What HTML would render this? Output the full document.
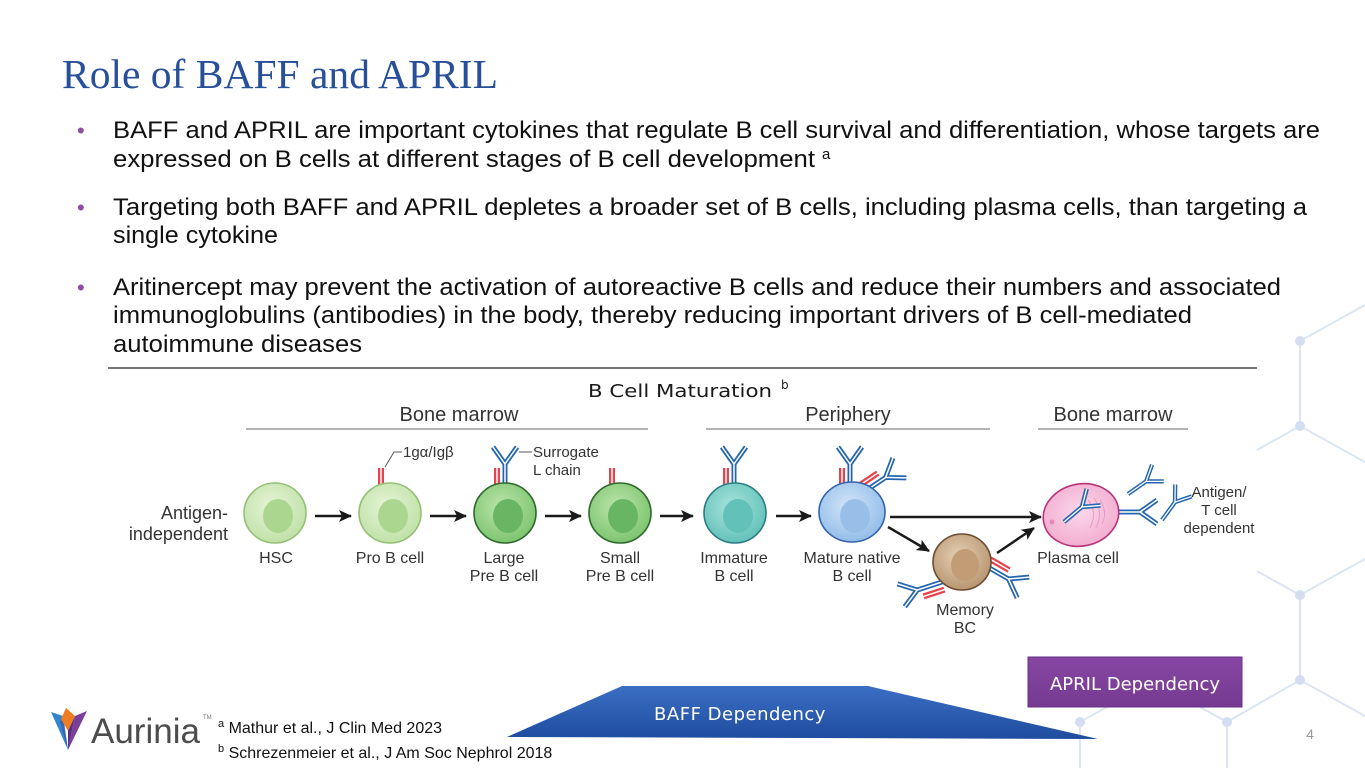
<!DOCTYPE html>
<html>
<head>
<meta charset="utf-8">
<style>
  html,body{margin:0;padding:0;background:#fff;}
  body{width:1365px;height:768px;overflow:hidden;position:relative;}
  svg{display:block;}
  .sans{font-family:"Liberation Sans", Arial, sans-serif;}
  .dv{font-family:"DejaVu Sans", "Liberation Sans", sans-serif;}
  .serif{font-family:"Liberation Serif", "Times New Roman", serif;}
</style>
</head>
<body>
<svg width="1365" height="768" viewBox="0 0 1365 768" xmlns="http://www.w3.org/2000/svg">
  <defs>
    <marker id="ah" markerWidth="13" markerHeight="12" refX="12" refY="6" orient="auto" markerUnits="userSpaceOnUse">
      <path d="M0,0 L13,6 L0,12 L3,6 z" fill="#1a1a1a"/>
    </marker>
    <radialGradient id="gLight" cx="45%" cy="40%" r="65%">
      <stop offset="0%" stop-color="#e6f4d8"/><stop offset="100%" stop-color="#bde0a3"/>
    </radialGradient>
    <radialGradient id="gDark" cx="45%" cy="40%" r="65%">
      <stop offset="0%" stop-color="#bde5ac"/><stop offset="100%" stop-color="#78c26b"/>
    </radialGradient>
    <radialGradient id="gTeal" cx="45%" cy="40%" r="65%">
      <stop offset="0%" stop-color="#a9e4dd"/><stop offset="100%" stop-color="#5ebfb7"/>
    </radialGradient>
    <radialGradient id="gBlue" cx="45%" cy="40%" r="65%">
      <stop offset="0%" stop-color="#d3e5f8"/><stop offset="100%" stop-color="#8dbae8"/>
    </radialGradient>
    <radialGradient id="gTan" cx="45%" cy="40%" r="65%">
      <stop offset="0%" stop-color="#e4d0b6"/><stop offset="100%" stop-color="#b5926b"/>
    </radialGradient>
    <radialGradient id="gPink" cx="50%" cy="45%" r="65%">
      <stop offset="0%" stop-color="#fbd8ea"/><stop offset="100%" stop-color="#f1a6cb"/>
    </radialGradient>
    <linearGradient id="gBaff" x1="0" y1="0" x2="0" y2="1">
      <stop offset="0%" stop-color="#3a6fc4"/><stop offset="100%" stop-color="#1f4c9e"/>
    </linearGradient>
    <linearGradient id="gApril" x1="0" y1="0" x2="0" y2="1">
      <stop offset="0%" stop-color="#8647a2"/><stop offset="100%" stop-color="#763a92"/>
    </linearGradient>

    <g id="ab">
      <path d="M0,0 V-26 L-12,-43 M0,-26 L12,-43" stroke="#2466ae" stroke-width="5" fill="none" stroke-linejoin="round"/>
      <path d="M0,0 V-26 L-12,-43 M0,-26 L12,-43" stroke="#ffffff" stroke-width="1.5" fill="none"/>
    </g>
    <g id="rb">
      <path d="M0,0 V-22" stroke="#e8434d" stroke-width="6" fill="none"/>
      <path d="M0,0 V-22" stroke="#ffffff" stroke-width="1.5" fill="none"/>
    </g>
    <g id="rec">
      <use href="#rb" x="-8" y="0"/>
      <use href="#ab"/>
    </g>
  </defs>

  <!-- background hexagon pattern -->
  <g stroke="#dbe5f3" stroke-width="2" fill="none">
    <line x1="1300" y1="341" x2="1365" y2="305"/>
    <line x1="1300" y1="341" x2="1300" y2="426"/>
    <line x1="1300" y1="426" x2="1257" y2="450"/>
    <line x1="1300" y1="426" x2="1365" y2="462"/>
    <line x1="1257" y1="571" x2="1300" y2="595"/>
    <line x1="1300" y1="595" x2="1365" y2="559"/>
    <line x1="1300" y1="595" x2="1300" y2="680"/>
    <line x1="1300" y1="680" x2="1227" y2="722"/>
    <line x1="1300" y1="680" x2="1365" y2="716"/>
    <line x1="1227" y1="722" x2="1227" y2="768"/>
    <line x1="1200" y1="707" x2="1227" y2="722"/>
    <line x1="1080" y1="722" x2="1107" y2="707"/>
    <line x1="1080" y1="722" x2="1080" y2="768"/>
  </g>
  <g fill="#d3def0">
    <circle cx="1300" cy="341" r="5"/>
    <circle cx="1300" cy="426" r="5"/>
    <circle cx="1300" cy="595" r="5"/>
    <circle cx="1300" cy="680" r="5"/>
    <circle cx="1227" cy="722" r="5"/>
    <circle cx="1080" cy="722" r="5"/>
  </g>

  <!-- Title -->
  <text x="62" y="88" class="serif" font-size="41" fill="#284f99" textLength="436" lengthAdjust="spacingAndGlyphs">Role of BAFF and APRIL</text>

  <!-- Bullets -->
  <g class="sans" font-size="24" fill="#111">
    <text x="77" y="138" fill="#8e4d9e" font-size="22">•</text>
    <text x="113" y="138" textLength="1207" lengthAdjust="spacingAndGlyphs">BAFF and APRIL are important cytokines that regulate B cell survival and differentiation, whose targets are</text>
    <text x="113" y="167" textLength="702" lengthAdjust="spacingAndGlyphs">expressed on B cells at different stages of B cell development</text>
    <text x="822" y="159" font-size="15">a</text>

    <text x="77" y="215" fill="#8e4d9e" font-size="22">•</text>
    <text x="113" y="215" textLength="1194" lengthAdjust="spacingAndGlyphs">Targeting both BAFF and APRIL depletes a broader set of B cells, including plasma cells, than targeting a</text>
    <text x="113" y="243" textLength="165" lengthAdjust="spacingAndGlyphs">single cytokine</text>

    <text x="77" y="295" fill="#8e4d9e" font-size="22">•</text>
    <text x="113" y="295" textLength="1168" lengthAdjust="spacingAndGlyphs">Aritinercept may prevent the activation of autoreactive B cells and reduce their numbers and associated</text>
    <text x="113" y="323" textLength="1079" lengthAdjust="spacingAndGlyphs">immunoglobulins (antibodies) in the body, thereby reducing important drivers of B cell-mediated</text>
    <text x="113" y="352" textLength="249" lengthAdjust="spacingAndGlyphs">autoimmune diseases</text>
  </g>
  <line x1="108" y1="368" x2="1257" y2="368" stroke="#222" stroke-width="1.2"/>

  <!-- Diagram title -->
  <text x="588" y="397" class="dv" font-size="18" fill="#1a1a1a" textLength="184" lengthAdjust="spacingAndGlyphs">B Cell Maturation</text>
  <text x="781" y="389" class="dv" font-size="12" fill="#1a1a1a">b</text>

  <!-- Section headers -->
  <g class="sans" font-size="20" fill="#333" text-anchor="middle">
    <text x="459" y="421">Bone marrow</text>
    <text x="848" y="421">Periphery</text>
    <text x="1113" y="421">Bone marrow</text>
  </g>
  <g stroke="#9a9a9a" stroke-width="1.5">
    <line x1="246" y1="429" x2="648" y2="429"/>
    <line x1="706" y1="429" x2="990" y2="429"/>
    <line x1="1038" y1="429" x2="1188" y2="429"/>
  </g>

  <!-- Antigen-independent -->
  <g class="sans" font-size="18" fill="#333" text-anchor="end">
    <text x="228" y="519">Antigen-</text>
    <text x="228" y="540">independent</text>
  </g>

  <!-- Receptors (drawn before cells) -->
  <use href="#rb" x="381" y="490"/>
  <use href="#rec" x="505" y="490"/>
  <use href="#rb" x="612" y="490"/>
  <use href="#rec" x="734" y="490"/>
  <use href="#rec" x="850" y="490"/>
  <use href="#rec" transform="translate(864,492) rotate(56)"/>
  <use href="#rec" transform="translate(986,566) rotate(120)"/>
  <use href="#rec" transform="translate(942,582) rotate(252)"/>
  <use href="#ab" transform="translate(1114,512) rotate(90)"/>

  <!-- Leader lines -->
  <g stroke="#555" stroke-width="1" fill="none">
    <polyline points="385,467 394,452 402,452"/>
    <line x1="519" y1="452" x2="532" y2="452"/>
  </g>
  <g class="sans" font-size="15" fill="#333">
    <text x="403" y="457">1gα/Igβ</text>
    <text x="533" y="457">Surrogate</text>
    <text x="533" y="475">L chain</text>
  </g>

  <!-- Cells -->
  <g stroke-width="1.6">
    <ellipse cx="275" cy="513" rx="31" ry="30" fill="url(#gLight)" stroke="#95c077"/>
    <ellipse cx="278" cy="516" rx="15" ry="17" fill="#abd690"/>

    <ellipse cx="390" cy="513" rx="31" ry="30" fill="url(#gLight)" stroke="#95c077"/>
    <ellipse cx="393" cy="516" rx="15" ry="17" fill="#abd690"/>

    <ellipse cx="505" cy="513" rx="31" ry="30" fill="url(#gDark)" stroke="#2e6a2c"/>
    <ellipse cx="508" cy="516" rx="15" ry="17" fill="#68b664"/>

    <ellipse cx="620" cy="513" rx="31" ry="30" fill="url(#gDark)" stroke="#2e6a2c"/>
    <ellipse cx="623" cy="516" rx="15" ry="17" fill="#68b664"/>

    <ellipse cx="735" cy="513" rx="31" ry="30" fill="url(#gTeal)" stroke="#2b7d84"/>
    <ellipse cx="738" cy="516" rx="15" ry="17" fill="#62c2ba"/>

    <ellipse cx="852" cy="512" rx="33" ry="30" fill="url(#gBlue)" stroke="#3364ab"/>
    <ellipse cx="855" cy="516" rx="15" ry="17" fill="#98bfe8"/>

    <ellipse cx="962" cy="562" rx="29" ry="28" fill="url(#gTan)" stroke="#6b4c33"/>
    <ellipse cx="965" cy="565" rx="14" ry="16" fill="#c19c74"/>

    <ellipse cx="1081" cy="515" rx="38" ry="31" fill="url(#gPink)" stroke="#b5347a" transform="rotate(-12 1081 515)"/>
  </g>
  <!-- plasma cell inner details -->
  <g stroke="#e79cc4" stroke-width="1" fill="none">
    <path d="M1088,500 q10,12 2,28"/>
    <path d="M1094,498 q10,14 2,30"/>
    <path d="M1100,500 q8,12 2,24"/>
  </g>
  <circle cx="1052" cy="522" r="2.5" fill="#e58ab8"/>
  <use href="#ab" transform="translate(1064,522) rotate(50) scale(0.9)"/>
  <use href="#ab" transform="translate(1128,494) rotate(55) scale(0.85)"/>
  <use href="#ab" transform="translate(1162,520) rotate(36) scale(0.85)"/>

  <!-- Arrows -->
  <g stroke="#1a1a1a" stroke-width="2.5" fill="none" marker-end="url(#ah)">
    <line x1="315" y1="516" x2="351" y2="516"/>
    <line x1="430" y1="516" x2="466" y2="516"/>
    <line x1="545" y1="516" x2="581" y2="516"/>
    <line x1="660" y1="516" x2="693" y2="516"/>
    <line x1="776" y1="516" x2="811" y2="516"/>
    <line x1="890" y1="517" x2="1041" y2="517"/>
    <line x1="888" y1="527" x2="929" y2="551"/>
    <line x1="997" y1="553" x2="1034" y2="528"/>
  </g>

  <!-- Cell labels -->
  <g class="sans" font-size="16" fill="#333" text-anchor="middle">
    <text x="276" y="563">HSC</text>
    <text x="390" y="563">Pro B cell</text>
    <text x="504" y="563">Large</text>
    <text x="504" y="581">Pre B cell</text>
    <text x="620" y="563">Small</text>
    <text x="620" y="581">Pre B cell</text>
    <text x="734" y="563">Immature</text>
    <text x="734" y="581">B cell</text>
    <text x="852" y="563">Mature native</text>
    <text x="852" y="581">B cell</text>
    <text x="1078" y="563">Plasma cell</text>
    <text x="965" y="615">Memory</text>
    <text x="965" y="633">BC</text>
  </g>
  <g class="sans" font-size="15" fill="#333" text-anchor="middle">
    <text x="1219" y="497">Antigen/</text>
    <text x="1219" y="515">T cell</text>
    <text x="1219" y="533">dependent</text>
  </g>

  <!-- APRIL dependency -->
  <rect x="1028" y="657" width="214" height="50" fill="url(#gApril)" stroke="#6a2f86" stroke-width="1"/>
  <text x="1135" y="690" class="dv" font-size="18" fill="#fff" text-anchor="middle">APRIL Dependency</text>

  <!-- BAFF dependency -->
  <polygon points="507,737 622,686 868,686 1098,739" fill="url(#gBaff)"/>
  <text x="740" y="720" class="dv" font-size="18" fill="#fff" text-anchor="middle" letter-spacing="0.5">BAFF Dependency</text>

  <!-- Logo -->
  <g>
    <polygon points="51,712 63,716 68,750" fill="#2f86cf"/>
    <polygon points="63,716 68,750 60,722" fill="#3b64b0"/>
    <polygon points="61,719 66,708 75,716 68,731" fill="#f07c22"/>
    <polygon points="87,711 75,716 68,750" fill="#7b3f98"/>
    <polygon points="75,716 68,731 68,750" fill="#5a2f80"/>
  </g>
  <text x="91" y="743" class="sans" font-size="35" fill="#4d4d4d">Aurinia</text>
  <text x="203" y="719" class="sans" font-size="6" fill="#777">TM</text>

  <!-- Footnotes -->
  <g class="sans" fill="#111">
    <text x="218" y="733" font-size="16"><tspan font-size="11" dy="-6">a</tspan><tspan dy="6"> Mathur et al., J Clin Med 2023</tspan></text>
    <text x="218" y="758" font-size="16"><tspan font-size="11" dy="-6">b</tspan><tspan dy="6"> Schrezenmeier et al., J Am Soc Nephrol 2018</tspan></text>
  </g>

  <!-- Page number -->
  <text x="1310" y="739" class="sans" font-size="14" fill="#9a9a9a" text-anchor="middle">4</text>
</svg>
</body>
</html>
